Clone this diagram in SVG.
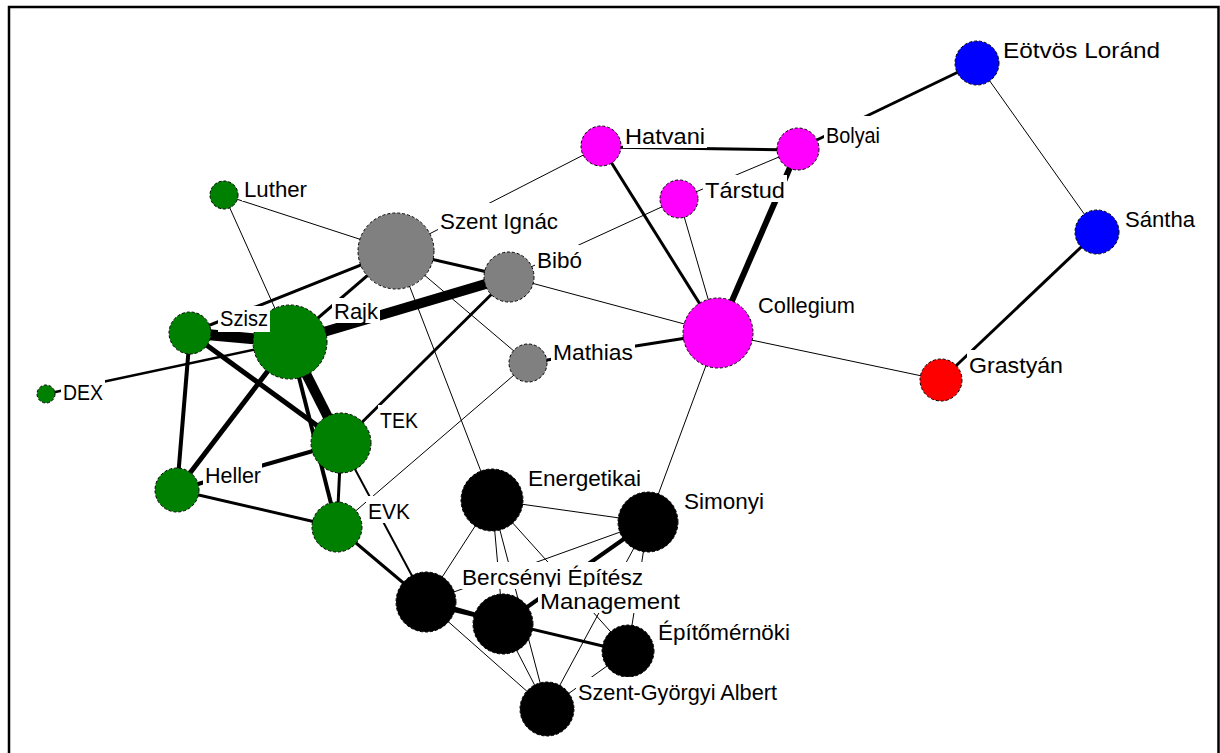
<svg xmlns="http://www.w3.org/2000/svg" width="1220" height="753" viewBox="0 0 1220 753">
<style>
.e{stroke:#000;fill:none;stroke-linecap:butt}
.n{stroke:#000;stroke-width:1;stroke-dasharray:3 2}
.g{fill:#008000}.gr{fill:#808080}.m{fill:#ff00ff}.b{fill:#0000ff}.r{fill:#ff0000}.k{fill:#000}
.bg{fill:#fff;stroke:none}
.t{font-family:"Liberation Sans",Arial,sans-serif;font-size:22px;fill:#000}
</style>
<rect x="0" y="0" width="1220" height="753" fill="#fff"/>
<rect x="9" y="7" width="1209.5" height="800" fill="none" stroke="#000" stroke-width="2.5"/>
<g id="connectors">
<line class="e" x1="977" y1="63" x2="798" y2="149" stroke-width="3"/>
<line class="e" x1="977" y1="63" x2="1097" y2="232" stroke-width="1"/>
<line class="e" x1="1097" y1="232" x2="941" y2="380" stroke-width="3"/>
<line class="e" x1="941" y1="380" x2="718" y2="333" stroke-width="1"/>
<line class="e" x1="601" y1="147" x2="798" y2="150" stroke-width="3"/>
<line class="e" x1="601" y1="146" x2="718" y2="333" stroke-width="3"/>
<line class="e" x1="601" y1="146" x2="396" y2="251" stroke-width="1"/>
<line class="e" x1="798" y1="149" x2="718" y2="333" stroke-width="6"/>
<line class="e" x1="679" y1="199" x2="798" y2="149" stroke-width="1"/>
<line class="e" x1="679" y1="199" x2="718" y2="333" stroke-width="1"/>
<line class="e" x1="679" y1="199" x2="509" y2="277" stroke-width="1"/>
<line class="e" x1="509" y1="277" x2="718" y2="333" stroke-width="1"/>
<line class="e" x1="528" y1="363" x2="718" y2="333" stroke-width="3"/>
<line class="e" x1="718" y1="333" x2="648" y2="522" stroke-width="1"/>
<line class="e" x1="396" y1="251" x2="509" y2="277" stroke-width="3"/>
<line class="e" x1="290" y1="342" x2="509" y2="277" stroke-width="10"/>
<line class="e" x1="396" y1="251" x2="224" y2="195" stroke-width="1"/>
<line class="e" x1="224" y1="195" x2="290" y2="342" stroke-width="1"/>
<line class="e" x1="396" y1="251" x2="190" y2="333" stroke-width="3"/>
<line class="e" x1="396" y1="251" x2="290" y2="342" stroke-width="3"/>
<line class="e" x1="396" y1="251" x2="492" y2="500" stroke-width="1"/>
<line class="e" x1="396" y1="251" x2="528" y2="363" stroke-width="1"/>
<line class="e" x1="509" y1="277" x2="341" y2="443" stroke-width="3"/>
<line class="e" x1="528" y1="363" x2="337" y2="527" stroke-width="1"/>
<line class="e" x1="46" y1="394" x2="290" y2="342" stroke-width="2.5"/>
<line class="e" x1="190" y1="333" x2="290" y2="342" stroke-width="11"/>
<line class="e" x1="190" y1="333" x2="177" y2="490" stroke-width="4"/>
<line class="e" x1="190" y1="333" x2="341" y2="443" stroke-width="5"/>
<line class="e" x1="290" y1="342" x2="341" y2="443" stroke-width="10"/>
<line class="e" x1="290" y1="342" x2="337" y2="527" stroke-width="4"/>
<line class="e" x1="177" y1="490" x2="290" y2="342" stroke-width="5"/>
<line class="e" x1="177" y1="490" x2="341" y2="443" stroke-width="4"/>
<line class="e" x1="177" y1="490" x2="337" y2="527" stroke-width="3"/>
<line class="e" x1="341" y1="443" x2="337" y2="527" stroke-width="3"/>
<line class="e" x1="341" y1="443" x2="426" y2="602" stroke-width="2"/>
<line class="e" x1="337" y1="527" x2="426" y2="602" stroke-width="3"/>
<line class="e" x1="492" y1="500" x2="648" y2="522" stroke-width="1"/>
<line class="e" x1="492" y1="500" x2="426" y2="602" stroke-width="1"/>
<line class="e" x1="492" y1="500" x2="503" y2="624" stroke-width="1"/>
<line class="e" x1="492" y1="500" x2="547" y2="709" stroke-width="1"/>
<line class="e" x1="492" y1="500" x2="628" y2="651" stroke-width="1"/>
<line class="e" x1="648" y1="522" x2="426" y2="602" stroke-width="1"/>
<line class="e" x1="648" y1="522" x2="503" y2="624" stroke-width="4"/>
<line class="e" x1="648" y1="522" x2="628" y2="651" stroke-width="1"/>
<line class="e" x1="648" y1="522" x2="547" y2="709" stroke-width="1"/>
<line class="e" x1="426" y1="600" x2="503" y2="622" stroke-width="3"/>
<line class="e" x1="426" y1="604" x2="628" y2="652" stroke-width="3"/>
<line class="e" x1="426" y1="602" x2="547" y2="709" stroke-width="1"/>
<line class="e" x1="503" y1="624" x2="547" y2="709" stroke-width="1"/>
<line class="e" x1="628" y1="651" x2="547" y2="709" stroke-width="1"/>
</g>
<g id="node-eotvos"><circle class="n b" cx="977" cy="63" r="22"/><rect class="bg" x="1001" y="35" width="161" height="27"/><text class="t" x="1003" y="58" textLength="157" lengthAdjust="spacingAndGlyphs">Eötvös Loránd</text></g>
<g id="node-santha"><circle class="n b" cx="1097" cy="232" r="22"/><rect class="bg" x="1123" y="204" width="74" height="27"/><text class="t" x="1125" y="227" textLength="70" lengthAdjust="spacingAndGlyphs">Sántha</text></g>
<g id="node-grastyan"><circle class="n r" cx="941" cy="380" r="21"/><rect class="bg" x="967" y="350" width="98" height="27"/><text class="t" x="969" y="373" textLength="94" lengthAdjust="spacingAndGlyphs">Grastyán</text></g>
<g id="node-bolyai"><circle class="n m" cx="798" cy="149" r="21"/><rect class="bg" x="824" y="116" width="56" height="31"/><text class="t" x="826" y="143" textLength="54" lengthAdjust="spacingAndGlyphs">Bolyai</text></g>
<g id="node-hatvani"><circle class="n m" cx="601" cy="146" r="20"/><rect class="bg" x="623" y="121" width="84" height="27"/><text class="t" x="625" y="144" textLength="80" lengthAdjust="spacingAndGlyphs">Hatvani</text></g>
<g id="node-tarstud"><circle class="n m" cx="679" cy="199" r="19"/><rect class="bg" x="703" y="175" width="84" height="27"/><text class="t" x="705" y="198" textLength="80" lengthAdjust="spacingAndGlyphs">Társtud</text></g>
<g id="node-collegium"><circle class="n m" cx="718" cy="333" r="35"/><rect class="bg" x="756" y="290" width="101" height="27"/><text class="t" x="758" y="313" textLength="97" lengthAdjust="spacingAndGlyphs">Collegium</text></g>
<g id="node-szentignac"><circle class="n gr" cx="396" cy="251" r="38"/><rect class="bg" x="438" y="203" width="122" height="30"/><text class="t" x="440" y="229" textLength="118" lengthAdjust="spacingAndGlyphs">Szent Ignác</text></g>
<g id="node-bibo"><circle class="n gr" cx="509" cy="277" r="25"/><rect class="bg" x="535" y="245" width="49" height="27"/><text class="t" x="537" y="268" textLength="45" lengthAdjust="spacingAndGlyphs">Bibó</text></g>
<g id="node-mathias"><circle class="n gr" cx="528" cy="363" r="19"/><rect class="bg" x="551" y="337" width="84" height="27"/><text class="t" x="553" y="360" textLength="80" lengthAdjust="spacingAndGlyphs">Mathias</text></g>
<g id="node-luther"><circle class="n g" cx="224" cy="195" r="14"/><rect class="bg" x="242" y="174" width="67" height="27"/><text class="t" x="244" y="197" textLength="63" lengthAdjust="spacingAndGlyphs">Luther</text></g>
<g id="node-rajk"><circle class="n g" cx="290" cy="342" r="37"/><rect class="bg" x="332" y="298" width="48" height="25"/><text class="t" x="334" y="319" textLength="44" lengthAdjust="spacingAndGlyphs">Rajk</text></g>
<g id="node-szisz"><circle class="n g" cx="190" cy="333" r="21"/><rect class="bg" x="218" y="306" width="52" height="26"/><text class="t" x="220" y="326" textLength="48" lengthAdjust="spacingAndGlyphs">Szisz</text></g>
<g id="node-dex"><circle class="n g" cx="46" cy="394" r="9"/><rect class="bg" x="61" y="377" width="44" height="27"/><text class="t" x="63" y="400" textLength="40" lengthAdjust="spacingAndGlyphs">DEX</text></g>
<g id="node-tek"><circle class="n g" cx="341" cy="443" r="30"/><rect class="bg" x="378" y="405" width="42" height="27"/><text class="t" x="380" y="428" textLength="38" lengthAdjust="spacingAndGlyphs">TEK</text></g>
<g id="node-heller"><circle class="n g" cx="177" cy="490" r="22"/><rect class="bg" x="203" y="460" width="59" height="27"/><text class="t" x="205" y="483" textLength="56" lengthAdjust="spacingAndGlyphs">Heller</text></g>
<g id="node-evk"><circle class="n g" cx="337" cy="527" r="25"/><rect class="bg" x="366" y="496" width="46" height="27"/><text class="t" x="368" y="519" textLength="42" lengthAdjust="spacingAndGlyphs">EVK</text></g>
<g id="node-energetikai"><circle class="n k" cx="492" cy="500" r="31"/><rect class="bg" x="526" y="463" width="117" height="27"/><text class="t" x="528" y="486" textLength="113" lengthAdjust="spacingAndGlyphs">Energetikai</text></g>
<g id="node-simonyi"><circle class="n k" cx="648" cy="522" r="30"/><rect class="bg" x="682" y="486" width="84" height="27"/><text class="t" x="684" y="509" textLength="80" lengthAdjust="spacingAndGlyphs">Simonyi</text></g>
<g id="node-bercsenyi"><circle class="n k" cx="426" cy="602" r="30"/><rect class="bg" x="460" y="562" width="185" height="27"/><text class="t" x="462" y="585" textLength="181" lengthAdjust="spacingAndGlyphs">Bercsényi Építész</text></g>
<g id="node-management"><circle class="n k" cx="503" cy="624" r="30"/><rect class="bg" x="538" y="587" width="144" height="26"/><text class="t" x="540" y="609" textLength="140" lengthAdjust="spacingAndGlyphs">Management</text></g>
<g id="node-epitomernoki"><circle class="n k" cx="628" cy="651" r="26"/><rect class="bg" x="656" y="617" width="136" height="27"/><text class="t" x="658" y="640" textLength="132" lengthAdjust="spacingAndGlyphs">Építőmérnöki</text></g>
<g id="node-szentgyorgyi"><circle class="n k" cx="547" cy="709" r="27"/><rect class="bg" x="576" y="677" width="203" height="27"/><text class="t" x="578" y="700" textLength="199" lengthAdjust="spacingAndGlyphs">Szent-Györgyi Albert</text></g>
</svg>
